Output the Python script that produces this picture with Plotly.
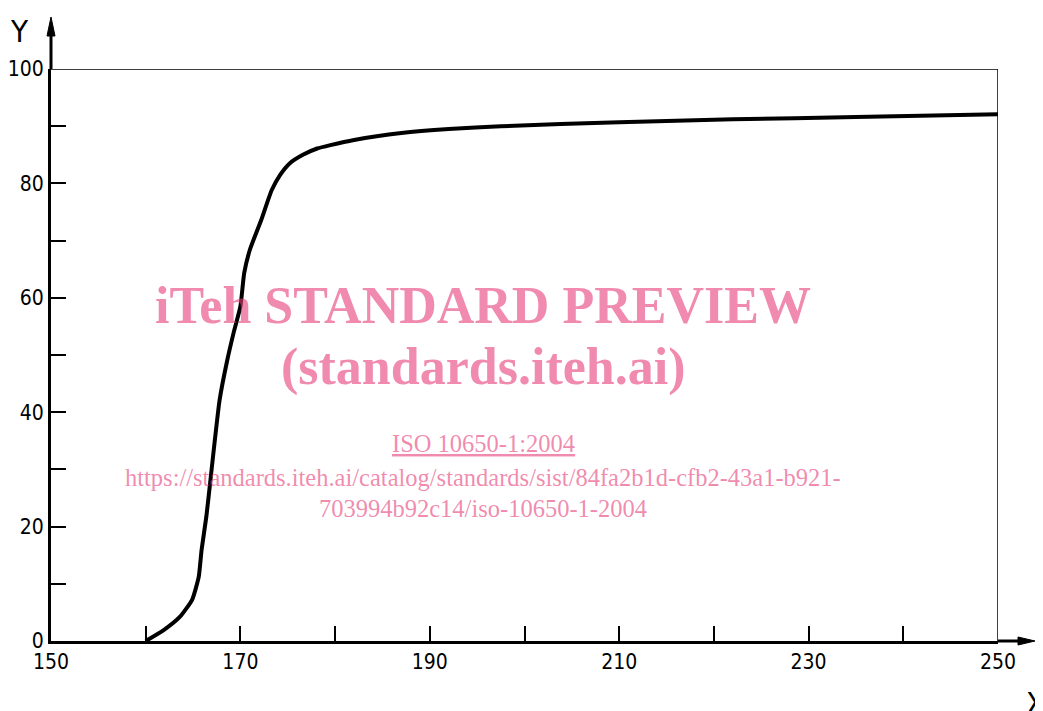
import plotly.graph_objects as go

# Data
x_vals = [160, 161.9, 163.6, 164.9, 165.6, 165.9, 166.4, 166.8, 167.3, 167.8, 168.6, 169.3,
          170.0, 170.4, 171.0, 172.2, 173.3, 174.2, 175.2, 176.6, 178.1, 179.5, 182, 187,
          192, 197.5, 210, 222, 235, 250]
y_vals = [0, 1.9, 4.2, 7.2, 11.2, 15.9, 21.7, 27.6, 35.1, 42.1, 49, 54,
          58.5, 64.3, 68.4, 73.6, 78.8, 81.5, 83.5, 85.0, 86.1, 86.7, 87.6, 88.8,
          89.5, 90.0, 90.7, 91.2, 91.6, 92.1]

x_ticks = list(range(150, 251, 10))
x_ticklabels = [str(v) if (v - 150) % 20 == 0 else "" for v in x_ticks]
y_ticks = list(range(0, 101, 10))
y_ticklabels = [str(v) if v % 20 == 0 else "" for v in y_ticks]

OFF = 8  # page body margin
W, H = 1043 - OFF, 711 - OFF
L, R, T, B = 51 - OFF, 45, 69 - OFF, 70
PW, PH = W - L - R, H - T - B


def px(X):
    return (X - OFF - L) / PW


def py(Y):
    return (H - B - (Y - OFF)) / PH


tick_font = dict(family="DejaVu Sans Condensed, DejaVu Sans, sans-serif", size=21, color="black")

fig = go.Figure()
fig.add_trace(go.Scatter(
    x=x_vals, y=y_vals, mode="lines",
    line=dict(color="black", width=4, shape="spline", smoothing=0.5),
    hoverinfo="skip", showlegend=False,
))

shapes = [
    # top frame and right frame
    dict(type="line", xref="x", yref="y", x0=150, x1=250, y0=100, y1=100,
         line=dict(color="black", width=1.5)),
    dict(type="line", xref="x", yref="y", x0=250, x1=250, y0=0, y1=100,
         line=dict(color="black", width=1.5)),
    # y-axis extension + arrow
    dict(type="line", xref="paper", yref="paper", x0=0, x1=0, y0=1, y1=py(34),
         line=dict(color="black", width=3)),
    dict(type="path", xref="paper", yref="paper",
         path=f"M {px(47)} {py(36)} L {px(51)} {py(17)} L {px(55)} {py(36)} Z",
         fillcolor="black", line=dict(color="black", width=1)),
    # x-axis extension + arrow
    dict(type="line", xref="paper", yref="paper", x0=1, x1=px(1022), y0=0, y1=0,
         line=dict(color="black", width=3)),
    dict(type="path", xref="paper", yref="paper",
         path=f"M {px(1018)} {py(637)} L {px(1035)} {py(641)} L {px(1018)} {py(645)} Z",
         fillcolor="black", line=dict(color="black", width=1)),
]

wm = "rgba(230,60,120,0.6)"
serif = "Liberation Serif, Times New Roman, serif"


def ann(text, X, Y, size, color, family, xanchor="center"):
    return dict(text=text, xref="paper", yref="paper", x=px(X), y=py(Y),
                xanchor=xanchor, yanchor="middle", showarrow=False,
                font=dict(family=family, size=size, color=color))


sans = "DejaVu Sans Condensed, DejaVu Sans"
annotations = [
    ann("Y", 19, 31, 31, "black", sans),
    ann("X", 1024, 703, 31, "black", sans, xanchor="left"),
    ann("<b>iTeh STANDARD PREVIEW</b>", 483, 305, 52, wm, serif),
    ann("<b>(standards.iteh.ai)</b>", 483, 367, 52, wm, serif),
    ann("<u>ISO 10650-1:2004</u>", 483, 443, 24.5, wm, serif),
    ann("https://standards.iteh.ai/catalog/standards/sist/84fa2b1d-cfb2-43a1-b921-",
        483, 477, 24.5, wm, serif),
    ann("703994b92c14/iso-10650-1-2004", 483, 508, 24.5, wm, serif),
]

fig.update_layout(
    width=W, height=H,
    margin=dict(l=L, r=R, t=T, b=B, pad=0, autoexpand=False),
    paper_bgcolor="white", plot_bgcolor="white",
    shapes=shapes, annotations=annotations,
    xaxis=dict(range=[150, 250], tickvals=x_ticks, ticktext=x_ticklabels,
               showline=True, linecolor="black", linewidth=3, mirror=False,
               ticks="inside", ticklen=15, tickwidth=1.5, tickcolor="black",
               showgrid=False, zeroline=False, tickfont=tick_font, fixedrange=True),
    yaxis=dict(range=[0, 100], tickvals=y_ticks, ticktext=y_ticklabels,
               showline=True, linecolor="black", linewidth=3, mirror=False,
               ticks="inside", ticklen=15, tickwidth=1.5, tickcolor="black",
               showgrid=False, zeroline=False, tickfont=tick_font, fixedrange=True),
)

fig.write_html("out.html")
